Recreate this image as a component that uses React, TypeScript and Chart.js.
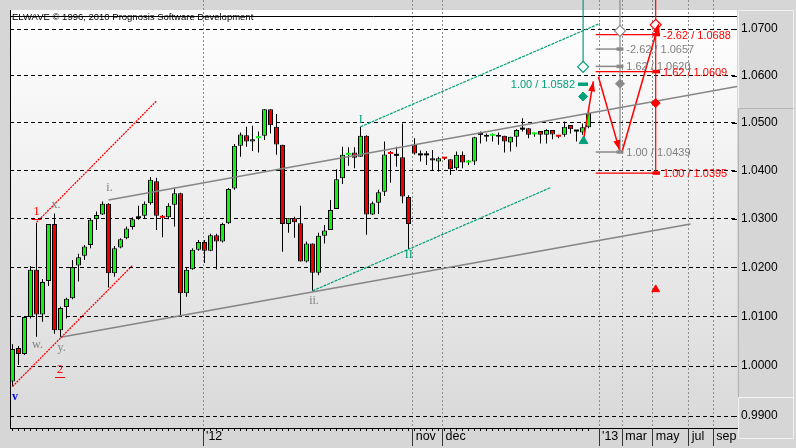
import { useEffect, useRef } from "react";
import { Chart, registerables } from "chart.js";
Chart.register(...registerables);

// ---------- candle data (one bar per period, index 0..96) ----------
const opens = [0.9969,1.0036,1.0024,1.0099,1.0195,1.0104,1.0172,1.0289,1.0072,1.0119,
1.0137,1.0204,1.0224,1.0246,1.0299,1.0309,1.0331,1.0188,1.0241,1.0260,
1.0283,1.0301,1.0306,1.0332,1.0378,1.0304,1.0303,1.0329,1.0353,1.0147,
1.0196,1.0236,1.0252,1.0234,1.0266,1.0253,1.0291,1.0363,1.0452,1.0474,
1.0461,1.0468,1.0473,1.0529,1.0492,1.0454,1.0289,1.0301,1.0291,1.0212,
1.0249,1.0189,1.0265,1.0277,1.0320,1.0384,1.0433,1.0438,1.0429,1.0473,
1.0309,1.0333,1.0356,1.0437,1.0431,1.0428,1.0345,1.0454,1.0432,1.0432,
1.0426,1.0419,1.0426,1.0424,1.0405,1.0433,1.0417,1.0419,1.0475,1.0475,
1.0473,1.0475,1.0473,1.0459,1.0471,1.0486,1.0489,1.0476,1.0483,1.0475,
1.0485,1.0473,1.0475,1.0496,1.0482,1.0480,1.0491];
const highs = [1.0044,1.0040,1.0099,1.0203,1.0292,1.0176,1.0289,1.0311,1.0120,1.0138,
1.0215,1.0228,1.0246,1.0301,1.0315,1.0336,1.0332,1.0244,1.0260,1.0284,
1.0303,1.0327,1.0336,1.0387,1.0385,1.0308,1.0332,1.0365,1.0354,1.0200,
1.0239,1.0256,1.0256,1.0269,1.0269,1.0292,1.0364,1.0456,1.0480,1.0492,
1.0494,1.0482,1.0529,1.0529,1.0519,1.0454,1.0301,1.0304,1.0327,1.0253,
1.0249,1.0271,1.0287,1.0339,1.0403,1.0450,1.0449,1.0449,1.0492,1.0474,
1.0336,1.0360,1.0461,1.0441,1.0450,1.0499,1.0349,1.0468,1.0442,1.0441,
1.0443,1.0429,1.0428,1.0424,1.0440,1.0440,1.0422,1.0471,1.0482,1.0478,
1.0478,1.0480,1.0473,1.0471,1.0487,1.0510,1.0489,1.0480,1.0483,1.0487,
1.0485,1.0475,1.0503,1.0496,1.0485,1.0499,1.0522];
const lows = [0.9959,1.0002,1.0022,1.0096,1.0059,1.0089,1.0162,1.0065,1.0058,1.0096,
1.0135,1.0171,1.0215,1.0239,1.0277,1.0308,1.0159,1.0181,1.0239,1.0258,
1.0278,1.0298,1.0301,1.0329,1.0277,1.0262,1.0299,1.0284,1.0100,1.0140,
1.0195,1.0234,1.0209,1.0233,1.0196,1.0251,1.0289,1.0360,1.0429,1.0450,
1.0441,1.0438,1.0464,1.0478,1.0433,1.0232,1.0271,1.0261,1.0212,1.0210,
1.0152,1.0184,1.0249,1.0277,1.0320,1.0372,1.0410,1.0405,1.0429,1.0267,
1.0308,1.0310,1.0347,1.0375,1.0408,1.0332,1.0237,1.0433,1.0419,1.0412,
1.0401,1.0398,1.0422,1.0391,1.0401,1.0405,1.0412,1.0412,1.0457,1.0461,
1.0461,1.0454,1.0438,1.0440,1.0450,1.0482,1.0468,1.0471,1.0457,1.0457,
1.0466,1.0468,1.0471,1.0478,1.0461,1.0475,1.0489];
const closes = [1.0034,1.0024,1.0099,1.0195,1.0104,1.0170,1.0289,1.0072,1.0117,1.0136,
1.0201,1.0221,1.0243,1.0298,1.0308,1.0331,1.0188,1.0239,1.0258,1.0280,
1.0299,1.0301,1.0331,1.0381,1.0306,1.0302,1.0327,1.0353,1.0147,1.0195,
1.0236,1.0252,1.0234,1.0266,1.0253,1.0289,1.0362,1.0452,1.0476,1.0461,
1.0466,1.0471,1.0529,1.0495,1.0455,1.0289,1.0301,1.0293,1.0212,1.0249,
1.0189,1.0265,1.0276,1.0318,1.0382,1.0433,1.0435,1.0427,1.0473,1.0309,
1.0332,1.0355,1.0434,1.0435,1.0431,1.0346,1.0289,1.0436,1.0432,1.0432,
1.0421,1.0426,1.0425,1.0403,1.0433,1.0417,1.0418,1.0470,1.0475,1.0471,
1.0474,1.0471,1.0461,1.0471,1.0485,1.0486,1.0475,1.0477,1.0475,1.0485,
1.0476,1.0471,1.0492,1.0487,1.0482,1.0491,1.0521];

// ---------- axes ----------
const priceTicks = [0.99, 1.0, 1.01, 1.02, 1.03, 1.04, 1.05, 1.06, 1.07];
const timeTickPos = [31.75, 66.7, 71.68, 97.75, 101.63, 106.72, 112.72, 116.78];
const timeTickLabels = ["'12", "nov", "dec", "'13", "mar", "may", "jul", "sep"];

// ---------- trend lines (bar index, price) ----------
const redChannelUpper = [[4.03, 1.0293], [24.03, 1.0547]];
const redChannelLower = [[0, 0.9959], [20, 1.0204]];
const grayChannelLower = [[8, 1.0058], [113, 1.0289]];
const grayChannelUpper = [[16, 1.0339], [120.75, 1.0577]];
const tealChannelUpper = [[58, 1.0492], [97.9, 1.0712]];
const tealChannelLower = [[50, 1.0152], [89.75, 1.0365]];

// ---------- projection targets ----------
const tealX = 95.1, grayX = 101.25, redX = 107.2;
const TOP_PRICE = 1.0765;
const tealLevels = [1.0582];
const tealRatios = ["1.00"];
const grayLevels = [1.0657, 1.0620, 1.0439];
const grayRatios = ["-2.62", "1.62", "1.00"];
const redLevels = [1.0688, 1.0609, 1.0395];
const redRatios = ["-2.62", "1.62", "1.00"];
const levelStartX = 97.2;
const grayLevelEndX = 101.8;
const redLevelEndX = 107.92;
const tealBarSpan = [94.25, 95.92];
const grayBarSpan = [100.67, 101.8];
const redBarSpan = [106.67, 107.92];
const openDiamonds = [[tealX, 1.0619], [grayX, 1.0696], [redX, 1.0709]];
const filledDiamonds = [[tealX, 1.0556], [grayX, 1.0583], [redX, 1.0542]];
const tealTriangle = [[95.17, 1.0462]];
const redTriangle = [[redX, 1.0155]];
const arrows = [
  [[95.13, 1.0462], [96.8, 1.0588]],
  [[97.65, 1.0598], [101.17, 1.0443]],
  [[101.53, 1.0437], [107.75, 1.0713]],
];

// ---------- wave labels ----------
const waveLabels = [
  { text: "v", x: 0.42, y: 0.9939, kind: "blue" },
  { text: "w.", x: 4.17, y: 1.0042, kind: "gray" },
  { text: "x.", x: 7.25, y: 1.0329, kind: "gray" },
  { text: "y.", x: 8.17, y: 1.0037, kind: "gray" },
  { text: "i.", x: 16.17, y: 1.0365, kind: "gray" },
  { text: "ii.", x: 50.25, y: 1.0131, kind: "gray" },
  { text: "1", x: 4.0, y: 1.0314, kind: "red" },
  { text: "2", x: 7.92, y: 0.9992, kind: "red" },
  { text: "I", x: 58.03, y: 1.0507, kind: "teal" },
  { text: "II", x: 66.03, y: 1.0226, kind: "teal" },
];

const GREEN = "#14f014";
const RED = "#ee0000";
const TEAL = "#00a07a";
const GRAYA = "#858585";
const AREAD = "#ff0000";
const SANS = "'Liberation Sans', Arial, sans-serif";
const SERIF = "'Liberation Serif', 'Times New Roman', serif";

const X_MIN = -2.5 / 6;
const X_MAX = X_MIN + 727 / 6;
const Y_MIN = 0.987631;
const Y_MAX = 1.076248;

const labelStyles: any = {
  blue: { color: "#0000ee", font: "bold 12px " + SERIF },
  gray: { color: "#808080", font: "12px " + SERIF },
  red: { color: "#ff0000", font: "13px " + SERIF, underline: true },
  teal: { color: TEAL, font: "12px " + SERIF },
};

const pts = (a: number[][]) => a.map(([x, y]) => ({ x, y }));
const seg = (a: number[][], color: string, width: number, dash: number[] = []) => ({
  type: "line", data: pts(a), borderColor: color, borderWidth: width, borderDash: dash,
  pointRadius: 0, fill: false, tension: 0, order: 1,
});
const marker = (a: number[][], style: string, r: number, fill: string, stroke: string, bw: number) => ({
  type: "line", data: pts(a), showLine: false, pointStyle: style, pointRadius: r,
  pointBackgroundColor: fill, pointBorderColor: stroke, pointBorderWidth: bw, order: 0,
});

const overlay = {
  id: "overlay",
  beforeDraw(chart: any) {
    const { ctx, chartArea: ca } = chart;
    ctx.save();
    ctx.fillStyle = "#d6d6d6";
    ctx.fillRect(0, 0, chart.width, chart.height);
    const g = ctx.createLinearGradient(0, 10, 0, ca.bottom);
    g.addColorStop(0, "#ffffff");
    g.addColorStop(1, "#d9d9d9");
    ctx.fillStyle = g;
    ctx.fillRect(ca.left, 10, ca.right - ca.left, ca.bottom - 10);
    // right price panel boxes
    ctx.lineWidth = 1;
    ctx.strokeStyle = "#f2f2f2";
    ctx.strokeRect(738.5, 10.5, 55, 428);
    ctx.strokeStyle = "#b4b4b4";
    ctx.beginPath();
    ctx.moveTo(738.5, 108.5); ctx.lineTo(793.5, 108.5);
    ctx.moveTo(738.5, 108.5); ctx.lineTo(738.5, 397.5);
    ctx.stroke();
    ctx.strokeStyle = "#f6f6f6";
    ctx.beginPath();
    ctx.moveTo(738.5, 397.5); ctx.lineTo(793.5, 397.5);
    ctx.stroke();
    ctx.restore();
  },
  beforeDatasetsDraw(chart: any) {
    const { ctx, chartArea: ca, scales } = chart;
    const xs = scales.x, ys = scales.y;
    ctx.save();
    // frame lines
    ctx.strokeStyle = "#000";
    ctx.lineWidth = 1;
    ctx.beginPath();
    ctx.moveTo(ca.left + 0.5, 10); ctx.lineTo(ca.left + 0.5, ca.bottom);
    ctx.moveTo(ca.left, 16.5); ctx.lineTo(ca.right, 16.5);
    ctx.stroke();
    ctx.fillStyle = "#000";
    ctx.font = "9.5px " + SANS;
    ctx.textBaseline = "alphabetic";
    ctx.textAlign = "left";
    ctx.fillText("ELWAVE \u00a9 1996, 2010 Prognosis Software Development", 12, 19.5);
    // price tick marks at right edge
    ctx.beginPath();
    priceTicks.forEach((v) => {
      const y = Math.round(ys.getPixelForValue(v)) + 0.5;
      ctx.moveTo(ca.right - 5, y); ctx.lineTo(ca.right, y);
    });
    ctx.stroke();
    // minor time ticks (one per bar)
    ctx.beginPath();
    opens.forEach((_, i) => {
      const x = Math.floor(xs.getPixelForValue(i)) + 0.5;
      ctx.moveTo(x, ca.bottom); ctx.lineTo(x, ca.bottom + 3);
    });
    ctx.stroke();
    // major time ticks
    ctx.strokeStyle = "#333";
    ctx.beginPath();
    timeTickPos.forEach((v) => {
      const x = Math.floor(xs.getPixelForValue(v)) + 0.5;
      ctx.moveTo(x, ca.bottom); ctx.lineTo(x, ca.bottom + 18);
    });
    ctx.stroke();
    ctx.restore();
  },
  afterDatasetsDraw(chart: any) {
    const { ctx, scales } = chart;
    const xs = scales.x, ys = scales.y;
    const px = (x: number) => xs.getPixelForValue(x);
    const py = (y: number) => ys.getPixelForValue(y);
    ctx.save();
    // arrowheads
    ctx.fillStyle = AREAD;
    arrows.forEach(([a, b]) => {
      const x0 = px(a[0]), y0 = py(a[1]), x1 = px(b[0]), y1 = py(b[1]);
      const ang = Math.atan2(y1 - y0, x1 - x0);
      const L = 10, W = 3.5;
      ctx.beginPath();
      ctx.moveTo(x1, y1);
      ctx.lineTo(x1 - L * Math.cos(ang) + W * Math.sin(ang), y1 - L * Math.sin(ang) - W * Math.cos(ang));
      ctx.lineTo(x1 - L * Math.cos(ang) - W * Math.sin(ang), y1 - L * Math.sin(ang) + W * Math.cos(ang));
      ctx.closePath();
      ctx.fill();
    });
    // level labels
    ctx.font = "11px " + SANS;
    ctx.textBaseline = "middle";
    ctx.textAlign = "right";
    ctx.fillStyle = TEAL;
    tealLevels.forEach((v, i) => ctx.fillText(tealRatios[i] + " / " + v.toFixed(4), px(tealBarSpan[0]) - 3, py(v) + 1));
    ctx.textAlign = "left";
    ctx.fillStyle = "#808080";
    grayLevels.forEach((v, i) => ctx.fillText(grayRatios[i] + " / " + v.toFixed(4), px(grayBarSpan[1]) + 3, py(v) + 1));
    ctx.fillStyle = "#ff0000";
    redLevels.forEach((v, i) => ctx.fillText(redRatios[i] + " / " + v.toFixed(4), px(redBarSpan[1]) + 3, py(v) + 1));
    // wave labels
    ctx.textAlign = "center";
    waveLabels.forEach((l) => {
      const st = labelStyles[l.kind];
      const x = px(l.x), y = py(l.y);
      ctx.font = st.font;
      ctx.fillStyle = st.color;
      ctx.fillText(l.text, x, y);
      if (st.underline) {
        ctx.strokeStyle = st.color;
        ctx.lineWidth = 1;
        ctx.beginPath();
        ctx.moveTo(x - 5, Math.round(y + 7) + 0.5);
        ctx.lineTo(x + 5, Math.round(y + 7) + 0.5);
        ctx.stroke();
      }
    });
    ctx.restore();
  },
};

function buildConfig(): any {
  const bodyColors = opens.map((o, i) => (closes[i] > o ? GREEN : closes[i] < o ? RED : "#000"));
  const bodyBorders = opens.map((o, i) => (Math.abs(o - closes[i]) < 0.00035 ? 0 : 1));
  const datasets: any[] = [
    {
      type: "bar",
      data: opens.map((o, i) => ({ x: i, y: [Math.min(o, closes[i]), Math.max(o, closes[i])] })),
      backgroundColor: bodyColors,
      borderColor: "#000",
      borderWidth: bodyBorders,
      borderSkipped: false,
      barThickness: 5,
      minBarLength: 2,
      inflateAmount: 0,
      grouped: false,
      order: 2,
    },
    {
      type: "bar",
      data: lows.map((l, i) => ({ x: i, y: [l, highs[i]] })),
      backgroundColor: "#000",
      borderWidth: 0,
      barThickness: 1,
      inflateAmount: 0,
      grouped: false,
      order: 3,
    },
    seg(redChannelUpper, "#ff0000", 1.3, [2, 1]),
    seg(redChannelLower, "#ff0000", 1.3, [2, 1]),
    seg(grayChannelLower, GRAYA, 1.5),
    seg(grayChannelUpper, GRAYA, 1.5),
    seg(tealChannelUpper, TEAL, 1.2, [3, 1]),
    seg(tealChannelLower, TEAL, 1.2, [3, 1]),
    seg([[tealX, TOP_PRICE], [tealX, openDiamonds[0][1]]], TEAL, 1.2),
    seg([[grayX, TOP_PRICE], [grayX, grayLevels[2]]], "#8a8a8a", 1.2),
    seg([[redX, TOP_PRICE], [redX, redLevels[2]]], AREAD, 1.2),
  ];
  tealLevels.forEach((v) => datasets.push(seg([[tealBarSpan[0], v], [tealBarSpan[1], v]], TEAL, 3.5)));
  grayLevels.forEach((v) => {
    datasets.push(seg([[levelStartX, v], [grayLevelEndX, v]], "#8a8a8a", 1.5));
    datasets.push(seg([[grayBarSpan[0], v], [grayBarSpan[1], v]], "#8a8a8a", 3.5));
  });
  redLevels.forEach((v) => {
    datasets.push(seg([[levelStartX, v], [redLevelEndX, v]], AREAD, 1.2));
    datasets.push(seg([[redBarSpan[0], v], [redBarSpan[1], v]], AREAD, 3.5));
  });
  arrows.forEach((a) => datasets.push(seg(a, AREAD, 1.5)));
  datasets.push(marker([openDiamonds[0]], "rectRot", 5.5, "#ffffff", TEAL, 1.2));
  datasets.push(marker([openDiamonds[1]], "rectRot", 5.5, "#ffffff", "#8a8a8a", 1.2));
  datasets.push(marker([openDiamonds[2]], "rectRot", 5.5, "#ffffff", AREAD, 1.2));
  datasets.push(marker([filledDiamonds[0]], "rectRot", 4.5, TEAL, TEAL, 1));
  datasets.push(marker([filledDiamonds[1]], "rectRot", 4.5, "#8a8a8a", "#8a8a8a", 1));
  datasets.push(marker([filledDiamonds[2]], "rectRot", 4.5, AREAD, AREAD, 1));
  datasets.push(marker(tealTriangle, "triangle", 5, TEAL, TEAL, 1));
  datasets.push(marker(redTriangle, "triangle", 4.5, AREAD, AREAD, 1));

  return {
    type: "bar",
    data: { datasets },
    plugins: [overlay],
    options: {
      responsive: false,
      animation: false,
      devicePixelRatio: 1,
      events: [],
      layout: { autoPadding: false, padding: { left: 10, right: 0, top: 0, bottom: 0 } },
      plugins: { legend: { display: false }, tooltip: { enabled: false }, title: { display: false } },
      scales: {
        x: {
          type: "linear",
          min: X_MIN,
          max: X_MAX,
          bounds: "data",
          offset: false,
          afterBuildTicks: (s: any) => { s.ticks = timeTickPos.map((v) => ({ value: v })); },
          afterFit: (s: any) => { s.height = 20; s.paddingLeft = 0; s.paddingRight = 0; s.paddingTop = 0; s.paddingBottom = 0; },
          grid: { color: "#8c8c8c", lineWidth: 1, drawTicks: false, offset: false },
          border: { display: true, color: "#000", width: 1, dash: [2, 2] },
          ticks: {
            autoSkip: false, maxRotation: 0, minRotation: 0, align: "start", labelOffset: 3, padding: 1,
            color: "#000", font: { family: SANS, size: 12.5 },
            callback: (_v: any, i: number) => timeTickLabels[i],
          },
        },
        y: {
          type: "logarithmic",
          position: "right",
          min: Y_MIN,
          max: Y_MAX,
          bounds: "data",
          afterBuildTicks: (s: any) => { s.ticks = priceTicks.map((v) => ({ value: v })); },
          afterFit: (s: any) => { s.width = 59; s.paddingTop = 0; s.paddingBottom = 0; s.paddingLeft = 0; s.paddingRight = 0; },
          grid: { color: "#000", lineWidth: 1, drawTicks: false },
          border: { display: false, dash: [4, 3] },
          ticks: {
            autoSkip: false, padding: 4, color: "#000", font: { family: SANS, size: 12, lineHeight: 0.01 },
            callback: (v: any) => Number(v).toFixed(4),
          },
        },
      },
    },
  };
}

export default function App() {
  const ref = useRef<HTMLCanvasElement>(null);
  useEffect(() => {
    const chart = new Chart(ref.current as HTMLCanvasElement, buildConfig());
    return () => chart.destroy();
  }, []);
  return (
    <div style={{ position: "absolute", left: 0, top: 0, width: 796, height: 448, background: "#d6d6d6" }}>
      <canvas ref={ref} width={796} height={448} style={{ display: "block", width: 796, height: 448 }} />
    </div>
  );
}
